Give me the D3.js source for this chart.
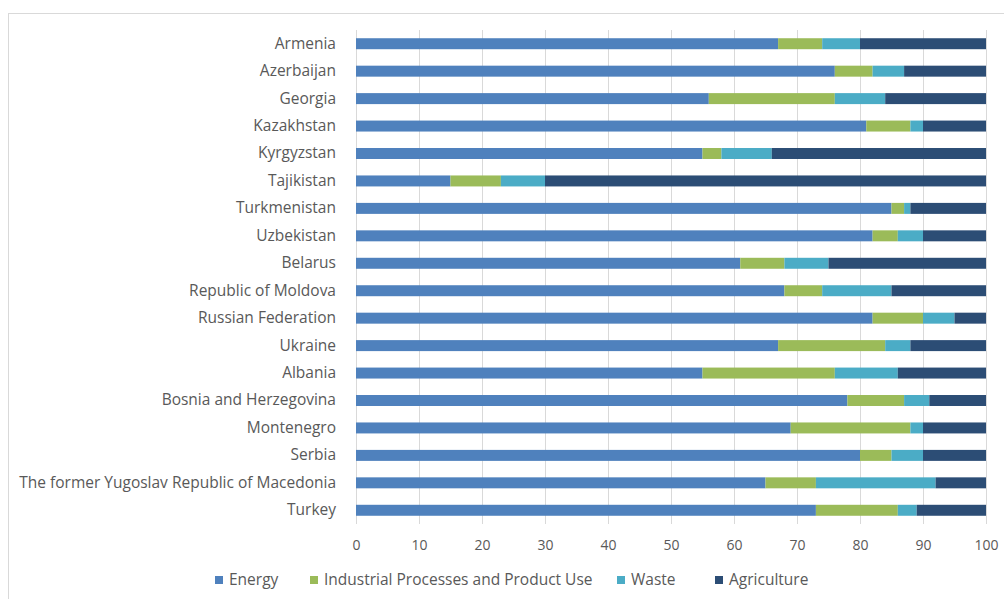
<!DOCTYPE html>
<html>
<head>
<meta charset="utf-8">
<script src="https://cdn.jsdelivr.net/npm/d3@7"></script>
<style>
  html, body { margin: 0; padding: 0; background: #fff; }
  svg { display: block; font-family: "Open Sans", "Noto Sans", sans-serif; }
</style>
</head>
<body>
<svg id="chart" width="1004" height="599"></svg>
<script>
// Share of greenhouse gas emissions by sector, per country (%)
const countries = [
  "Armenia", "Azerbaijan", "Georgia", "Kazakhstan", "Kyrgyzstan", "Tajikistan",
  "Turkmenistan", "Uzbekistan", "Belarus", "Republic of Moldova", "Russian Federation",
  "Ukraine", "Albania", "Bosnia and Herzegovina", "Montenegro", "Serbia",
  "The former Yugoslav Republic of Macedonia", "Turkey"
];
const energy      = [67, 76, 56, 81, 55, 15, 85, 82, 61, 68, 82, 67, 55, 78, 69, 80, 65, 73];
const industrial  = [ 7,  6, 20,  7,  3,  8,  2,  4,  7,  6,  8, 17, 21,  9, 19,  5,  8, 13];
const waste       = [ 6,  5,  8,  2,  8,  7,  1,  4,  7, 11,  5,  4, 10,  4,  2,  5, 19,  3];
const agriculture = [20, 13, 16, 10, 34, 70, 12, 10, 25, 15,  5, 12, 14,  9, 10, 10,  8, 11];
const seriesNames = ["Energy", "Industrial Processes and Product Use", "Waste", "Agriculture"];
const seriesColors = ["#4f81bd", "#9bbb59", "#4bacc6", "#2c4d75"];
const xTicks = [0, 10, 20, 30, 40, 50, 60, 70, 80, 90, 100];

const rows = countries.map((c, i) => ({
  country: c,
  Energy: energy[i],
  "Industrial Processes and Product Use": industrial[i],
  Waste: waste[i],
  Agriculture: agriculture[i]
}));

const svg = d3.select("#chart");

// outer chart frame
svg.append("rect")
  .attr("x", 8.5).attr("y", 13.5)
  .attr("width", 1010).attr("height", 600)
  .attr("fill", "none").attr("stroke", "#d9d9d9").attr("stroke-width", 1);

const plot = { left: 356, right: 986, top: 30, bottom: 524 };

const x = d3.scaleLinear().domain([0, 100]).range([plot.left, plot.right]);
const y = d3.scaleBand().domain(countries).range([plot.top, plot.bottom]).paddingInner(0.6).paddingOuter(0.3);

// vertical gridlines
svg.append("g")
  .selectAll("line")
  .data(xTicks)
  .join("line")
  .attr("x1", d => x(d) + 0.5).attr("x2", d => x(d) + 0.5)
  .attr("y1", plot.top).attr("y2", plot.bottom)
  .attr("stroke", "#d9d9d9").attr("stroke-width", 1);

// stacked bars
const stack = d3.stack().keys(seriesNames);
const layers = stack(rows);
const color = d3.scaleOrdinal().domain(seriesNames).range(seriesColors);

svg.append("g")
  .selectAll("g")
  .data(layers)
  .join("g")
  .attr("fill", d => color(d.key))
  .selectAll("rect")
  .data(d => d)
  .join("rect")
  .attr("x", d => x(d[0]))
  .attr("width", d => x(d[1]) - x(d[0]))
  .attr("y", d => y(d.data.country))
  .attr("height", y.bandwidth());

// x axis labels
const xAxis = d3.axisBottom(x).tickValues(xTicks).tickSize(0).tickPadding(0);
const xg = svg.append("g")
  .attr("transform", `translate(0, ${plot.bottom + 16})`)
  .call(xAxis);
xg.select(".domain").remove();
xg.selectAll("text")
  .attr("fill", "#595959")
  .attr("font-size", 14)
  .attr("font-family", "\"Open Sans\", sans-serif");

// category labels
const yAxis = d3.axisLeft(y).tickSize(0).tickPadding(20);
const yg = svg.append("g")
  .attr("transform", `translate(${plot.left}, 0)`)
  .call(yAxis);
yg.select(".domain").remove();
yg.selectAll("text")
  .attr("fill", "#595959")
  .attr("font-size", 15.5)
  .attr("font-family", "\"Open Sans\", sans-serif");

// legend
const legendX = [215, 310, 617, 715];
const legend = svg.append("g");
seriesNames.forEach((name, i) => {
  const g = legend.append("g").attr("transform", `translate(${legendX[i]}, 580)`);
  g.append("rect")
    .attr("x", 0).attr("y", -4)
    .attr("width", 8).attr("height", 8)
    .attr("fill", seriesColors[i]);
  g.append("text")
    .attr("x", 14).attr("y", 0)
    .attr("dy", "0.35em")
    .attr("fill", "#595959")
    .attr("font-size", 15.5)
    .text(name);
});
</script>
</body>
</html>
